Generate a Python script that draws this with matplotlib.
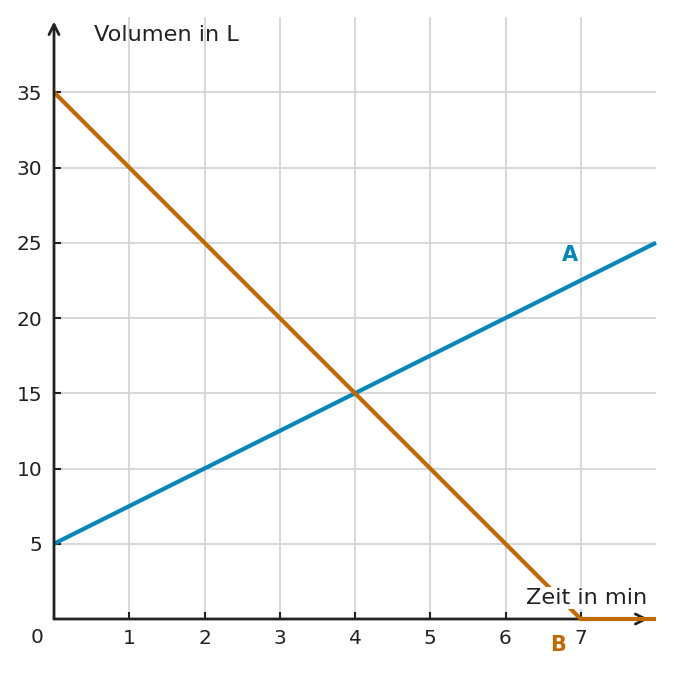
import numpy as np
import matplotlib
matplotlib.use('Agg')
import matplotlib.pyplot as plt

# data
a_x = [0, 8]
a_y = [5, 25]
b_x = [0, 7, 8]
b_y = [35, 0, 0]
xticks = [1, 2, 3, 4, 5, 6, 7]
yticks = [5, 10, 15, 20, 25, 30, 35]

orange = "#c06a00"
blue = "#0088bb"
dark = "#222222"

fig = plt.figure(figsize=(6.74, 6.75), dpi=100)
ax = fig.add_axes([54/674, 56/675, 602/674, 602/675])
ax.set_xlim(0, 8)
ax.set_ylim(0, 40)

for x in xticks:
	ax.axvline(x, color="#d4d4d4", lw=1.3, zorder=0)
for y in yticks:
	ax.axhline(y, color="#d4d4d4", lw=1.3, zorder=0)

ax.plot(a_x, a_y, color=blue, lw=3, solid_capstyle="butt", zorder=3, clip_on=False)
ax.plot(b_x, b_y, color=orange, lw=3, solid_capstyle="butt", zorder=3, clip_on=False)

for s in ax.spines.values():
	s.set_visible(False)

# axes with arrows
ax.annotate("", xy=(0, 39.7), xytext=(0, 0), xycoords="data",
	arrowprops=dict(arrowstyle="->", color=dark, lw=2, mutation_scale=18, shrinkA=0, shrinkB=0),
	annotation_clip=False, zorder=4)
ax.annotate("", xy=(7.9, 0), xytext=(0, 0), xycoords="data",
	arrowprops=dict(arrowstyle="->", color=dark, lw=2, mutation_scale=18, shrinkA=0, shrinkB=0),
	annotation_clip=False, zorder=2)

ax.set_xticks(xticks)
ax.set_yticks(yticks)
ax.tick_params(axis="x", direction="in", length=5, width=1.5, color=dark, labelsize=14.5, labelcolor=dark, pad=7)
ax.tick_params(axis="y", direction="in", length=5, width=1.5, color=dark, labelsize=14.5, labelcolor=dark, pad=8.5)

ax.text(-0.225, -1.25, "0", ha="center", va="center", fontsize=14.5, color=dark)
ax.text(0.53, 38.8, "Volumen in L", ha="left", va="center", fontsize=16.2, color=dark)
ax.text(7.88, 1.4, "Zeit in min", ha="right", va="center", fontsize=16.2, color=dark,
	bbox=dict(facecolor="white", edgecolor="none", pad=1), zorder=5)
ax.text(6.85, 24.2, "A", ha="center", va="center", fontsize=15, color=blue, fontweight="bold")
ax.text(6.7, -1.7, "B", ha="center", va="center", fontsize=15, color=orange, fontweight="bold")

fig.savefig("out.png", dpi=100)
